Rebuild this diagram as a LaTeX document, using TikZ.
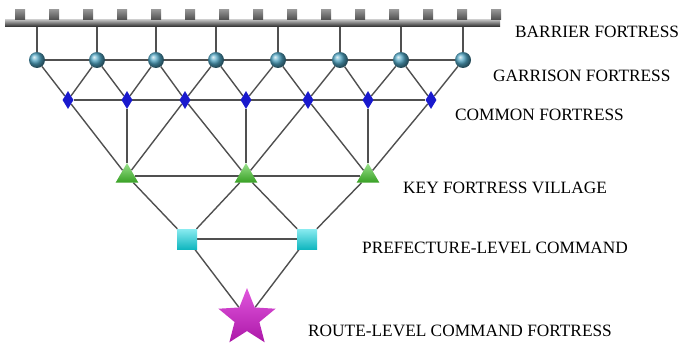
\documentclass[tikz,border=0pt]{standalone}
\usepackage{fontspec}
\setmainfont{Liberation Serif}
\usetikzlibrary{positioning,shapes,backgrounds}

\definecolor{LINK_GRAY}{RGB}{80,80,80}
\definecolor{GAR_TEAL}{RGB}{80,165,195}
\definecolor{COM_BLUE}{RGB}{25,25,205}
\definecolor{KEY_GREEN}{RGB}{70,200,45}
\definecolor{PRE_CYAN}{RGB}{20,215,225}
\definecolor{RTE_MAGENTA}{RGB}{215,30,210}

\tikzstyle{fort} = [inner sep=0pt, draw=none]
\tikzstyle{wall} = [fort, rectangle, minimum width=495pt, minimum height=7pt, top color=gray!55, bottom color=black!85]
\tikzstyle{merlon} = [fort, rectangle, minimum width=10pt, minimum height=10pt, top color=gray!85, bottom color=black!70]
\tikzstyle{garrison} = [fort, circle, minimum size=16pt, ball color=GAR_TEAL]
\tikzstyle{common} = [fort, diamond, minimum width=11pt, minimum height=18pt, fill=COM_BLUE]
\tikzstyle{keyvillage} = [fort, regular polygon, regular polygon sides=3, minimum size=26pt, top color=KEY_GREEN!55!white, bottom color=KEY_GREEN!80!black]
\tikzstyle{prefecture} = [fort, rectangle, minimum size=20pt, top color=PRE_CYAN!50!white, bottom color=PRE_CYAN!85!black]
\tikzstyle{route} = [fort, star, star points=5, star point ratio=2.3, minimum size=60pt, top color=RTE_MAGENTA!75!white, bottom color=RTE_MAGENTA!80!black]
\tikzstyle{link} = [draw=LINK_GRAY, line width=1.4pt]
\tikzstyle{levelname} = [anchor=west, inner sep=0pt, font=\fontsize{17.3}{20}\selectfont]

\begin{document}
\begin{tikzpicture}[x=1pt, y=-1pt, node distance = 10pt and 23.6pt]
      \useasboundingbox (0,0) rectangle (680,345);

      %%%%%%%%%%%%%%%%%%%%%%%%%%%%%%%%%%%%%%%%%%
      % BARRIER (WALL)
      %%%%%%%%%%%%%%%%%%%%%%%%%%%%%%%%%%%%%%%%%%
      \node[wall] (WALL) at (252.5,23.5) {};
      \node[merlon] (M1) at (20,15) {};
      \node[merlon, right= of M1]  (M2)  {};
      \node[merlon, right= of M2]  (M3)  {};
      \node[merlon, right= of M3]  (M4)  {};
      \node[merlon, right= of M4]  (M5)  {};
      \node[merlon, right= of M5]  (M6)  {};
      \node[merlon, right= of M6]  (M7)  {};
      \node[merlon, right= of M7]  (M8)  {};
      \node[merlon, right= of M8]  (M9)  {};
      \node[merlon, right= of M9]  (M10) {};
      \node[merlon, right= of M10] (M11) {};
      \node[merlon, right= of M11] (M12) {};
      \node[merlon, right= of M12] (M13) {};
      \node[merlon, right= of M13] (M14) {};
      \node[merlon, right= of M14] (M15) {};

      %%%%%%%%%%%%%%%%%%%%%%%%%%%%%%%%%%%%%%%%%%
      % GARRISON / COMMON
      %%%%%%%%%%%%%%%%%%%%%%%%%%%%%%%%%%%%%%%%%%
      \node[garrison] (G1) at (37,60)  {};
      \node[garrison] (G2) at (97,60)  {};
      \node[garrison] (G3) at (156,60) {};
      \node[garrison] (G4) at (216,60) {};
      \node[garrison] (G5) at (278,60) {};
      \node[garrison] (G6) at (340,60) {};
      \node[garrison] (G7) at (401,60) {};
      \node[garrison] (G8) at (463,60) {};

      \node[common] (C1) at (68,100)  {};
      \node[common] (C2) at (127,100) {};
      \node[common] (C3) at (185,100) {};
      \node[common] (C4) at (246,100) {};
      \node[common] (C5) at (308,100) {};
      \node[common] (C6) at (368,100) {};
      \node[common] (C7) at (431,100) {};

      %%%%%%%%%%%%%%%%%%%%%%%%%%%%%%%%%%%%%%%%%%
      % KEY / PREFECTURE / ROUTE
      %%%%%%%%%%%%%%%%%%%%%%%%%%%%%%%%%%%%%%%%%%
      \node[keyvillage] (K1) at (127,176) {};
      \node[keyvillage] (K2) at (246,176) {};
      \node[keyvillage] (K3) at (368,176) {};

      \node[prefecture] (P1) at (187,239) {};
      \node[prefecture] (P2) at (307,239) {};

      \node[route] (R) at (247,318) {};

      % level names
      \node[levelname] (LB) at (515,32)  {BARRIER FORTRESS};
      \node[levelname] (LG) at (493,76)  {GARRISON FORTRESS};
      \node[levelname] (LC) at (455,115) {COMMON FORTRESS};
      \node[levelname] (LK) at (403,188) {KEY FORTRESS VILLAGE};
      \node[levelname] (LP) at (362,248) {PREFECTURE-LEVEL COMMAND};
      \node[levelname] (LR) at (308,331) {ROUTE-LEVEL COMMAND FORTRESS};

      %%%%%%%%%%%%%%%%%%%%%%%%%%%%%%%%%%%%%%%%%%
      % LINKS
      %%%%%%%%%%%%%%%%%%%%%%%%%%%%%%%%%%%%%%%%%%
      \begin{scope}[on background layer]
      \path[link]
      (G1) edge (G1 |- WALL.south)
      (G2) edge (G2 |- WALL.south)
      (G3) edge (G3 |- WALL.south)
      (G4) edge (G4 |- WALL.south)
      (G5) edge (G5 |- WALL.south)
      (G6) edge (G6 |- WALL.south)
      (G7) edge (G7 |- WALL.south)
      (G8) edge (G8 |- WALL.south)
      (G1) edge (G8)
      (C1) edge (C7);
      \path[link]
      (C1) edge (G1) (C1) edge (G2)
      (C2) edge (G2) (C2) edge (G3)
      (C3) edge (G3) (C3) edge (G4)
      (C4) edge (G4) (C4) edge (G5)
      (C5) edge (G5) (C5) edge (G6)
      (C6) edge (G6) (C6) edge (G7)
      (C7) edge (G7) (C7) edge (G8);
      \path[link]
      (K1) edge (C1) (K1) edge (C2) (K1) edge (C3)
      (K2) edge (C3) (K2) edge (C4) (K2) edge (C5)
      (K3) edge (C5) (K3) edge (C6) (K3) edge (C7)
      (K1) edge (K3);
      \path[link]
      (P1) edge (K1) (P1) edge (K2)
      (P2) edge (K2) (P2) edge (K3)
      (P1) edge (P2)
      (R) edge (P1) (R) edge (P2);
      \end{scope}

\end{tikzpicture}
\end{document}
